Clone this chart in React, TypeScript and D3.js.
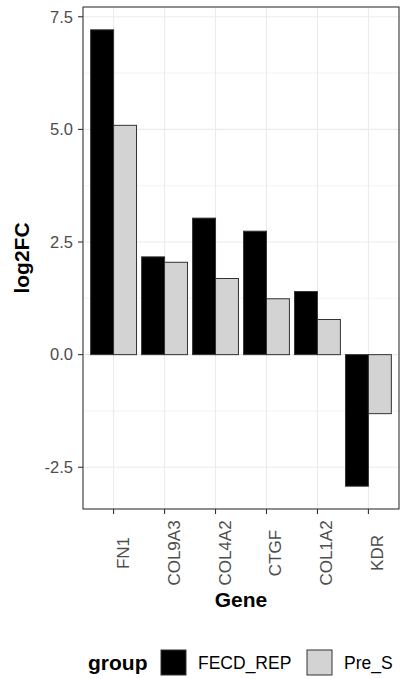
import React, { useEffect, useRef } from 'react';
import * as d3 from 'd3';

// data
const genes = ['FN1', 'COL9A3', 'COL4A2', 'CTGF', 'COL1A2', 'KDR'];
const groups = ['FECD_REP', 'Pre_S'];
const fecdRep = [7.21, 2.17, 3.03, 2.74, 1.4, -2.92];
const preS = [5.09, 2.05, 1.69, 1.24, 0.78, -1.31];
const yTicks = [-2.5, 0, 2.5, 5, 7.5];
const groupColors = ['#000000', '#D3D3D3'];

const W = 400;
const H = 679;
const font = "'Liberation Sans', Arial, sans-serif";

export default function App() {
  const ref = useRef<SVGSVGElement>(null);

  useEffect(() => {
    const { current: node } = ref;
    if (!node) {
      return;
    }
    const svg = d3.select(node);
    svg.selectAll('*').remove();

    const panel = { left: 83, right: 399, top: 7, bottom: 509 };

    const rows = genes.map((g, i) => ({ gene: g, values: [fecdRep[i], preS[i]] }));

    // ggplot-like discrete expansion (0.6 units each side)
    const x = d3
      .scaleBand()
      .domain(genes)
      .range([panel.left, panel.right])
      .paddingInner(0.1)
      .paddingOuter(0.15);
    const xg = d3.scaleBand().domain(groups).range([0, x.bandwidth()]);

    const all = fecdRep.concat(preS);
    const [lo, hi] = d3.extent(all) as [number, number];
    const pad = (hi - lo) * 0.05;
    const y = d3
      .scaleLinear()
      .domain([lo - pad, hi + pad])
      .range([panel.bottom, panel.top]);

    const center = (g: string) => (x(g) as number) + x.bandwidth() / 2;

    // grid
    const grid = svg.append('g');
    const minor = yTicks.slice(0, -1).map((t, i) => (t + yTicks[i + 1]) / 2);
    grid
      .selectAll('line.minor')
      .data(minor)
      .join('line')
      .attr('x1', panel.left)
      .attr('x2', panel.right)
      .attr('y1', (d) => y(d))
      .attr('y2', (d) => y(d))
      .attr('stroke', '#EBEBEB')
      .attr('stroke-width', 0.6);
    grid
      .selectAll('line.major')
      .data(yTicks)
      .join('line')
      .attr('x1', panel.left)
      .attr('x2', panel.right)
      .attr('y1', (d) => y(d))
      .attr('y2', (d) => y(d))
      .attr('stroke', '#EBEBEB')
      .attr('stroke-width', 1.1);
    grid
      .selectAll('line.vx')
      .data(genes)
      .join('line')
      .attr('x1', (d) => center(d))
      .attr('x2', (d) => center(d))
      .attr('y1', panel.top)
      .attr('y2', panel.bottom)
      .attr('stroke', '#EBEBEB')
      .attr('stroke-width', 1.1);

    // bars
    const bars = svg
      .append('g')
      .selectAll('g')
      .data(rows)
      .join('g')
      .attr('transform', (d) => `translate(${x(d.gene)},0)`);
    bars
      .selectAll('rect')
      .data((d) => d.values.map((v, i) => ({ v, grp: groups[i], i })))
      .join('rect')
      .attr('x', (d) => xg(d.grp) as number)
      .attr('width', xg.bandwidth())
      .attr('y', (d) => y(Math.max(0, d.v)))
      .attr('height', (d) => Math.abs(y(d.v) - y(0)))
      .attr('fill', (d) => groupColors[d.i])
      .attr('stroke', '#333')
      .attr('stroke-width', 1);

    // panel border
    svg
      .append('rect')
      .attr('x', panel.left)
      .attr('y', panel.top)
      .attr('width', panel.right - panel.left)
      .attr('height', panel.bottom - panel.top)
      .attr('fill', 'none')
      .attr('stroke', '#333')
      .attr('stroke-width', 1.1);

    // y axis
    const ya = svg.append('g');
    ya.selectAll('line')
      .data(yTicks)
      .join('line')
      .attr('x1', panel.left - 5)
      .attr('x2', panel.left)
      .attr('y1', (d) => y(d))
      .attr('y2', (d) => y(d))
      .attr('stroke', '#333')
      .attr('stroke-width', 1.1);
    ya.selectAll('text')
      .data(yTicks)
      .join('text')
      .attr('x', panel.left - 10)
      .attr('y', (d) => y(d))
      .attr('dy', '0.35em')
      .attr('text-anchor', 'end')
      .attr('font-family', font)
      .attr('font-size', 16.5)
      .attr('fill', '#4D4D4D')
      .text((d) => d.toFixed(1));

    // x axis
    const xa = svg.append('g');
    xa.selectAll('line')
      .data(genes)
      .join('line')
      .attr('x1', (d) => center(d))
      .attr('x2', (d) => center(d))
      .attr('y1', panel.bottom)
      .attr('y2', panel.bottom + 5)
      .attr('stroke', '#333')
      .attr('stroke-width', 1.1);
    xa.selectAll('text')
      .data(genes)
      .join('text')
      .attr('transform', (d) => `translate(${center(d) + 15},553) rotate(-90)`)
      .attr('text-anchor', 'middle')
      .attr('font-family', font)
      .attr('font-size', 17)
      .attr('fill', '#4D4D4D')
      .text((d) => d);

    // axis titles
    svg
      .append('text')
      .attr('x', (panel.left + panel.right) / 2)
      .attr('y', 607)
      .attr('text-anchor', 'middle')
      .attr('font-family', font)
      .attr('font-size', 21)
      .attr('font-weight', 'bold')
      .text('Gene');
    svg
      .append('text')
      .attr('transform', `translate(29,${(panel.top + panel.bottom) / 2}) rotate(-90)`)
      .attr('text-anchor', 'middle')
      .attr('font-family', font)
      .attr('font-size', 21)
      .attr('font-weight', 'bold')
      .text('log2FC');

    // legend
    const leg = svg.append('g');
    leg
      .append('text')
      .attr('x', 88)
      .attr('y', 670)
      .attr('font-family', font)
      .attr('font-size', 21)
      .attr('font-weight', 'bold')
      .text('group');
    const keyX = [161, 307];
    const items = leg
      .selectAll('g')
      .data(groups)
      .join('g')
      .attr('transform', (d, i) => `translate(${keyX[i]},650)`);
    items
      .append('rect')
      .attr('width', 25)
      .attr('height', 25)
      .attr('fill', (d, i) => groupColors[i])
      .attr('stroke', '#333')
      .attr('stroke-width', 1);
    items
      .append('text')
      .attr('x', 37)
      .attr('y', 12.5)
      .attr('dy', '0.35em')
      .attr('font-family', font)
      .attr('font-size', 17.5)
      .attr('fill', '#000')
      .text((d) => d);
  }, []);

  return (
    <svg
      ref={ref}
      width={W}
      height={H}
      style={{ position: 'absolute', left: 0, top: 0, background: '#fff' }}
    />
  );
}
